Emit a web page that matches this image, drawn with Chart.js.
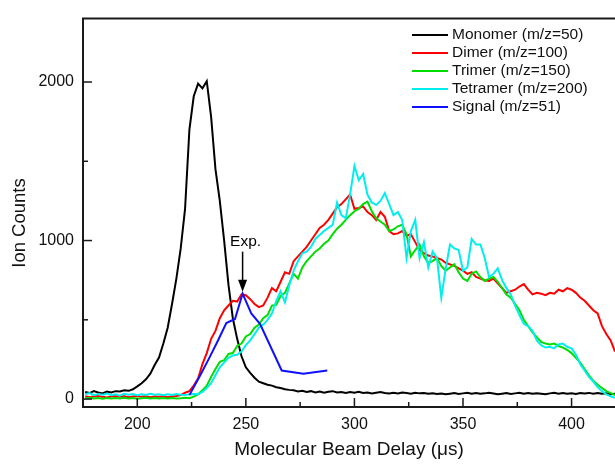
<!DOCTYPE html>
<html>
<head>
<meta charset="utf-8">
<title>Ion counts vs molecular beam delay</title>
<script src="https://cdn.jsdelivr.net/npm/chart.js@4.4.1/dist/chart.umd.min.js"></script>
<style>
  html, body { margin: 0; padding: 0; background: #fff; }
  #wrap { width: 615px; height: 464px; }
</style>
</head>
<body>
<div id="wrap"><canvas id="tofChart" width="615" height="464"></canvas></div>
<script>
// ---------------------------
// Data
// ---------------------------

// molecular beam delay grid, in microseconds
const delays = [
  176, 178, 180, 182, 184, 186, 188, 190, 192, 194,
  196, 198, 200, 202, 204, 206, 208, 210, 212, 214,
  216, 218, 220, 222, 224, 226, 228, 230, 232, 234,
  236, 238, 240, 242, 244, 246, 248, 250, 252, 254,
  256, 258, 260, 262, 264, 266, 268, 270, 272, 274,
  276, 278, 280, 282, 284, 286, 288, 290, 292, 294,
  296, 298, 300, 302, 304, 306, 308, 310, 312, 314,
  316, 318, 320, 322, 324, 326, 328, 330, 332, 334,
  336, 338, 340, 342, 344, 346, 348, 350, 352, 354,
  356, 358, 360, 362, 364, 366, 368, 370, 372, 374,
  376, 378, 380, 382, 384, 386, 388, 390, 392, 394,
  396, 398, 400, 402, 404, 406, 408, 410, 412, 414,
  416, 418, 420
];

const monomerCounts = [
  45, 38, 50, 42, 36, 48, 42, 50, 48, 55,
  52, 62, 80, 100, 125, 160, 215, 262, 350, 450,
  600, 760, 950, 1200, 1700, 1910, 1990, 1960, 2005, 1780,
  1450, 1250, 1000, 720, 510, 380, 270, 200, 165, 135,
  110, 100, 90, 85, 75, 70, 62, 58, 55, 48,
  52, 45, 50, 42, 48, 40, 46, 50, 42, 45,
  38, 44, 40, 46, 38, 42, 36, 40, 44, 38,
  35, 40, 36, 42, 38, 34, 40, 36, 38, 33,
  37, 32, 35, 30, 34, 38, 32, 36, 40, 34,
  38, 33, 36, 40, 35, 30, 34, 38, 32, 36,
  40, 34, 38, 33, 37, 34, 30, 36, 40, 34,
  38, 33, 36, 32, 38, 35, 39, 34, 38, 33,
  36, 30, 34
];

const dimerCounts = [
  18, 12, 16, 20, 14, 10, 16, 20, 14, 18,
  12, 16, 20, 14, 18, 12, 16, 14, 18, 12,
  16, 20, 25, 40, 50, 85, 130, 220, 290, 380,
  430, 510, 560, 590, 620, 615, 660, 655, 630, 600,
  580, 590, 640, 700, 680, 740, 800, 790, 870, 900,
  930, 960, 1000, 1040, 1080, 1100, 1130, 1170, 1210, 1230,
  1260, 1290, 1200, 1205, 1215, 1180, 1160, 1130, 1180, 1150,
  1060, 1040, 1045, 1060, 1030, 1040, 990, 940, 920, 905,
  900, 890, 880, 860, 850, 840, 825, 810, 790, 800,
  770, 760, 750, 745, 760, 730, 700, 670, 680, 690,
  710, 725, 690, 660, 670, 665, 655, 670, 665, 690,
  680, 700, 690, 670, 640, 620, 590, 560, 540, 460,
  410, 370, 300
];

const trimerCounts = [
  5, 8, 3, 6, 2, 7, 4, 6, 3, 8,
  4, 6, 2, 5, 8, 4, 6, 3, 7, 4,
  6, 3, 5, 8, 6, 15, 30, 55, 85, 140,
  190, 235, 245, 285, 290, 335, 350, 395, 410, 450,
  470, 510, 530, 590, 595, 650, 670, 730, 790, 760,
  830, 870, 900, 930, 950, 980, 1000, 1040, 1075, 1100,
  1130, 1160, 1185, 1200, 1230, 1245, 1185, 1140, 1120, 1100,
  1060, 1070, 1090, 1100, 1040, 900, 940, 975, 900, 860,
  870, 890, 840, 810, 830, 850, 800, 760, 745, 790,
  805, 770, 745, 760, 770, 740, 700, 660, 640, 600,
  560, 500, 460, 420, 390, 360, 350, 345, 350, 335,
  325, 310, 290, 260, 230, 190, 150, 115, 90, 70,
  50, 38, 25
];

const tetramerCounts = [
  30, 38, 25, 32, 28, 35, 25, 30, 22, 34,
  28, 32, 24, 30, 26, 33, 27, 30, 24, 31,
  26, 32, 28, 25, 30, 32, 30, 45, 70, 100,
  150, 200, 230, 260, 275, 280, 300, 340, 370, 410,
  450, 470, 500, 540, 620, 680, 610, 720, 810, 870,
  920, 930, 960, 1010, 1035, 1060, 1080, 1100, 1240, 1160,
  1140, 1290, 1470, 1380, 1420, 1290, 1240, 1225, 1250, 1300,
  1230, 1160, 1180, 1130, 890, 1060, 1130, 890, 990, 830,
  930, 890, 640, 820, 975, 950, 940, 810, 830, 1010,
  975, 975, 890, 770, 790, 825, 750, 700, 660, 590,
  530, 475, 460, 430, 370, 340, 325, 330, 320, 345,
  350, 330, 320, 280, 220, 180, 140, 110, 75, 50,
  30, 18, 8
];

// the m/z=51 signal is sampled much more coarsely
const signalDelays = [224, 229, 233, 237, 241, 245, 248.5, 252.5, 256.5, 266.5, 276.5, 287.5];
const signalCounts = [25, 150, 255, 365, 480, 505, 665, 540, 475, 180, 160, 180];

const seriesNames = ['Monomer (m/z=50)', 'Dimer (m/z=100)', 'Trimer (m/z=150)', 'Tetramer (m/z=200)', 'Signal (m/z=51)'];
const seriesColors = ['#000000', '#ff0000', '#00dd00', '#00eeee', '#1010ff'];

const xTicks = [200, 250, 300, 350, 400];
const xMinorTicks = [225, 275, 325, 375];
const yTicks = [0, 1000, 2000];
const yMinorTicks = [500, 1500];

const expDelay = 248.5;   // where the "Exp." arrow points
const expCounts = 665;

// ---------------------------
// Helpers
// ---------------------------
const FONT = '"Liberation Sans", Arial, Helvetica, sans-serif';
const AXIS_COLOR = '#1a1a1a';

function toPoints(xs, ys) {
    return xs.map((x, i) => ({ x: x, y: ys[i] }));
}

function makeDataset(idx, points, order) {
    return {
        label: seriesNames[idx],
        data: points,
        borderColor: seriesColors[idx],
        backgroundColor: seriesColors[idx],
        borderWidth: 2,
        pointRadius: 0,
        tension: 0,
        fill: false,
        order: order
    };
}

// frame top line, inward ticks, y title, legend and the Exp. arrow
const decorations = {
    id: 'decorations',
    afterDatasetsDraw(chart) {
        const { ctx, chartArea: a, scales: { x, y } } = chart;
        ctx.save();

        // top frame line
        ctx.strokeStyle = AXIS_COLOR;
        ctx.lineWidth = 2;
        ctx.beginPath();
        ctx.moveTo(a.left - 1, a.top);
        ctx.lineTo(a.right, a.top);
        ctx.stroke();

        // inward ticks
        ctx.lineWidth = 1.5;
        const seg = (x1, y1, x2, y2) => {
            ctx.beginPath();
            ctx.moveTo(x1, y1);
            ctx.lineTo(x2, y2);
            ctx.stroke();
        };
        xTicks.forEach(v => { const px = x.getPixelForValue(v); seg(px, a.bottom, px, a.bottom - 9); });
        xMinorTicks.forEach(v => { const px = x.getPixelForValue(v); seg(px, a.bottom, px, a.bottom - 5); });
        yTicks.forEach(v => { const py = y.getPixelForValue(v); seg(a.left, py, a.left + 9, py); });
        yMinorTicks.forEach(v => { const py = y.getPixelForValue(v); seg(a.left, py, a.left + 5, py); });

        // y axis title
        ctx.fillStyle = '#111';
        ctx.font = '18.5px ' + FONT;
        ctx.textAlign = 'center';
        ctx.textBaseline = 'middle';
        ctx.save();
        ctx.translate(20, 223);
        ctx.rotate(-Math.PI / 2);
        ctx.fillText('Ion Counts', 0, 0);
        ctx.restore();

        // legend
        ctx.font = '15.5px ' + FONT;
        ctx.textAlign = 'left';
        ctx.textBaseline = 'middle';
        seriesNames.forEach((name, i) => {
            const rowY = 35 + i * 18;
            ctx.strokeStyle = seriesColors[i];
            ctx.lineWidth = 2;
            seg(412, rowY, 448, rowY);
            ctx.fillStyle = '#111';
            ctx.fillText(name, 452, rowY);
        });

        // "Exp." arrow over the signal peak
        const ax = x.getPixelForValue(expDelay);
        const tipY = y.getPixelForValue(expCounts) - 2;
        ctx.strokeStyle = '#000';
        ctx.fillStyle = '#000';
        ctx.lineWidth = 1.5;
        seg(ax, tipY - 40, ax, tipY - 10);
        ctx.beginPath();
        ctx.moveTo(ax, tipY);
        ctx.lineTo(ax - 4.5, tipY - 12);
        ctx.lineTo(ax + 4.5, tipY - 12);
        ctx.closePath();
        ctx.fill();
        ctx.font = '15.5px ' + FONT;
        ctx.textAlign = 'center';
        ctx.fillText('Exp.', ax + 3, tipY - 50);

        ctx.restore();
    }
};

// ---------------------------
// Chart
// ---------------------------
const ctx = document.getElementById('tofChart');

new Chart(ctx, {
    type: 'line',
    data: {
        datasets: [
            makeDataset(0, toPoints(delays, monomerCounts), 5),
            makeDataset(1, toPoints(delays, dimerCounts), 4),
            makeDataset(2, toPoints(delays, trimerCounts), 3),
            makeDataset(3, toPoints(delays, tetramerCounts), 2),
            makeDataset(4, toPoints(signalDelays, signalCounts), 1)
        ]
    },
    options: {
        responsive: false,
        animation: false,
        events: [],
        layout: { padding: { top: 15, right: 0, bottom: 0, left: 0 } },
        plugins: {
            legend: { display: false },
            tooltip: { enabled: false }
        },
        scales: {
            x: {
                type: 'linear',
                min: 175,
                max: 420,
                afterFit: s => { s.height = 57; },
                afterBuildTicks: s => { s.ticks = xTicks.map(v => ({ value: v })); },
                grid: { display: false, drawTicks: false },
                border: { display: true, color: AXIS_COLOR, width: 2 },
                ticks: {
                    padding: 8,
                    color: '#111',
                    font: { family: FONT, size: 16 },
                    maxRotation: 0,
                    callback: v => String(v)
                },
                title: {
                    display: true,
                    text: 'Molecular Beam Delay (μs)',
                    color: '#111',
                    font: { family: FONT, size: 19 },
                    padding: { top: 0, bottom: 3 }
                }
            },
            y: {
                type: 'linear',
                min: -50,
                max: 2400,
                afterFit: s => { s.width = 83; },
                afterBuildTicks: s => { s.ticks = yTicks.map(v => ({ value: v })); },
                grid: { display: false, drawTicks: false },
                border: { display: true, color: AXIS_COLOR, width: 2 },
                ticks: {
                    padding: 9,
                    color: '#111',
                    font: { family: FONT, size: 16 },
                    callback: v => String(v)
                }
            }
        }
    },
    plugins: [decorations]
});
</script>
</body>
</html>
